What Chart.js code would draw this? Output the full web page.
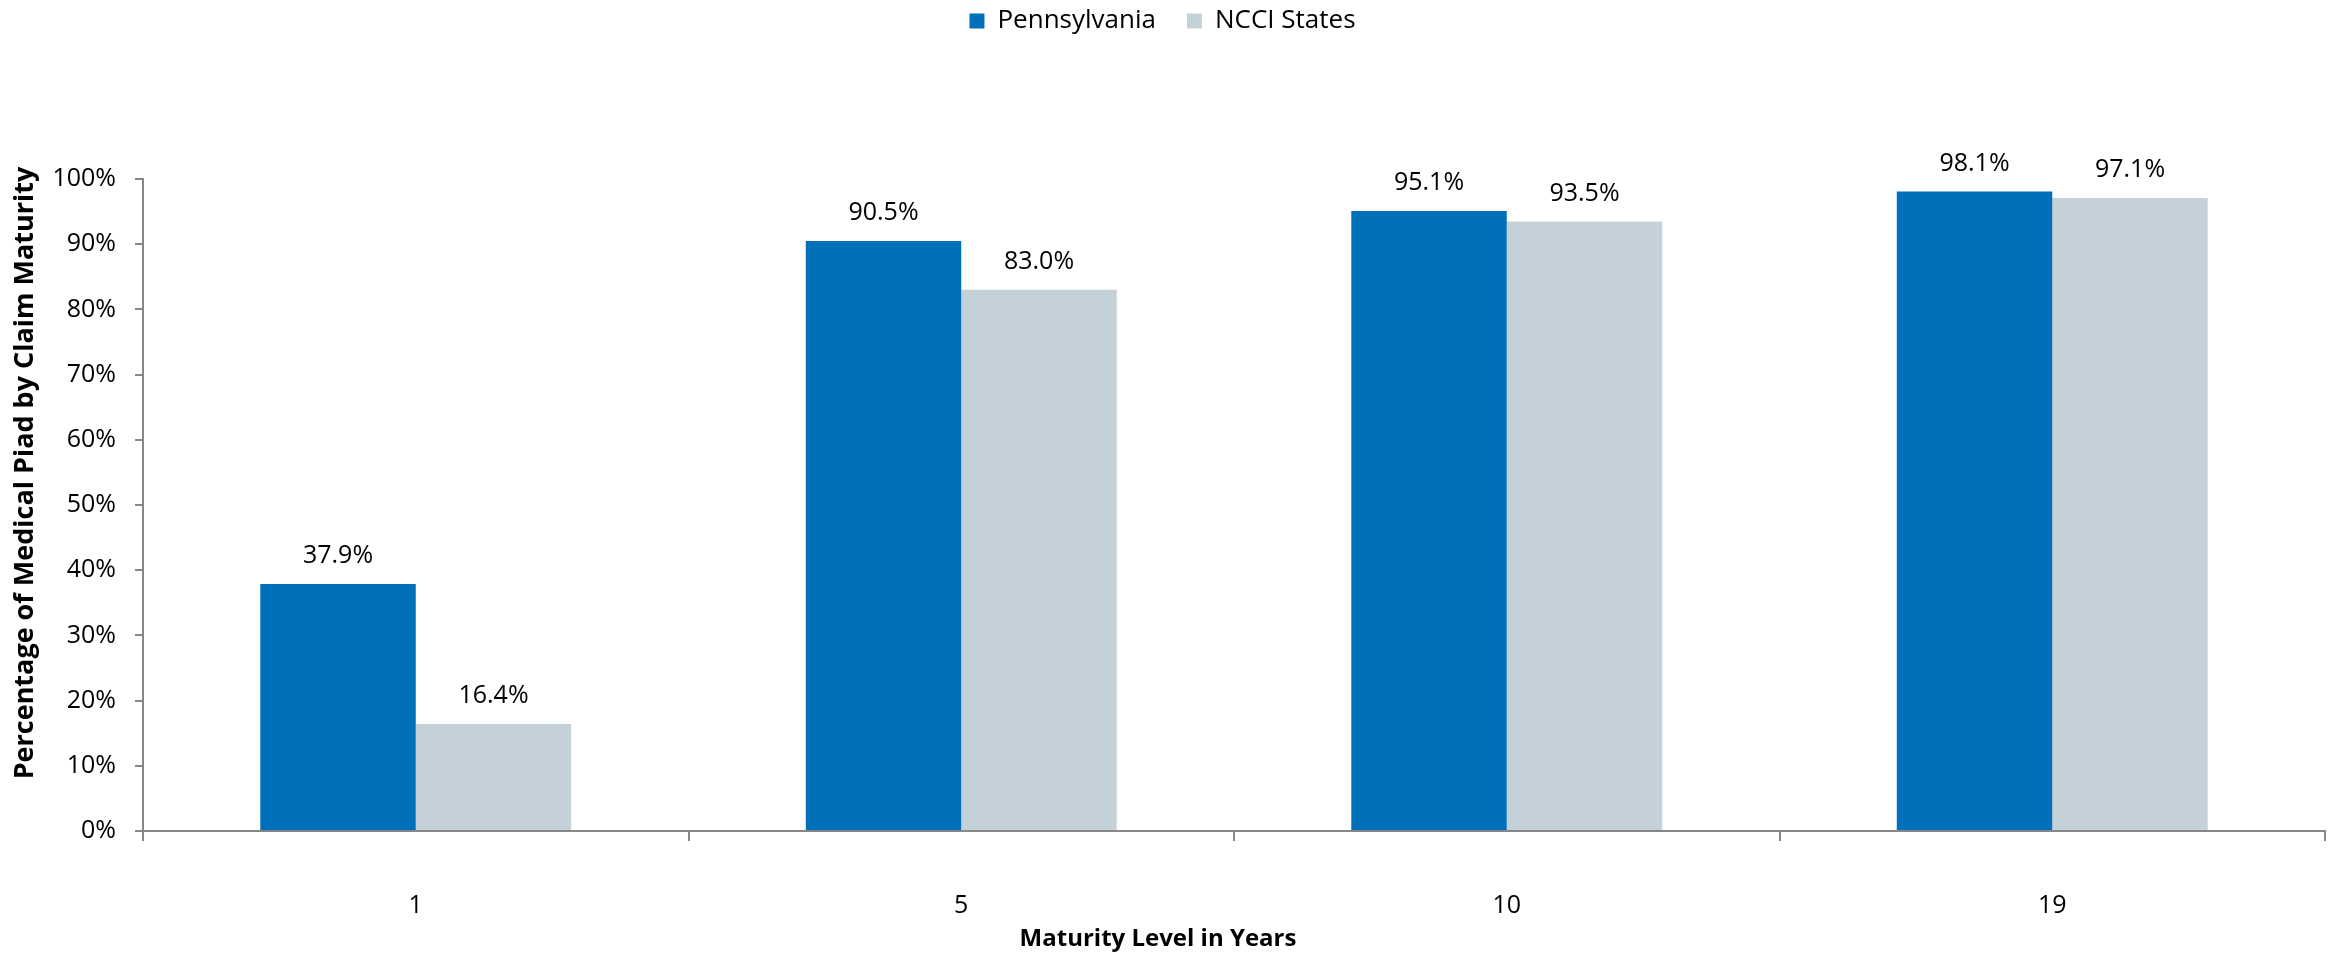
<!DOCTYPE html>
<html>
<head>
<meta charset="utf-8">
<title>Medical Paid by Claim Maturity</title>
<script src="https://cdn.jsdelivr.net/npm/chart.js@4.4.1/dist/chart.umd.min.js"></script>
<style>
  html, body { margin: 0; padding: 0; background: #fff; }
  canvas { display: block; }
</style>
</head>
<body>
<canvas id="maturityChart" width="2336" height="953"></canvas>
<script>
// maturity levels (years) and share of medical paid, in percent
const categories = ['1', '5', '10', '19'];
const pennsylvania = [37.9, 90.5, 95.1, 98.1];
const ncciStates = [16.4, 83.0, 93.5, 97.1];

const xTitle = 'Maturity Level in Years';
const yTitle = 'Percentage of Medical Piad by Claim Maturity';

const FONT = "'Open Sans', sans-serif";
const AXIS_GREY = '#878787';

// legend sits in a tall top band; pull its row up to the canvas top
const legendBand = {
    id: 'legendBand',
    beforeInit(chart) {
        const fit = chart.legend.fit;
        chart.legend.fit = function () {
            fit.call(this);
            this.height = 179;
        };
    },
    afterLayout(chart) {
        chart.legend.top -= 23;
        chart.legend.bottom -= 23;
    }
};

// value above each bar
const barValues = {
    id: 'barValues',
    afterDatasetsDraw(chart) {
        const ctx = chart.ctx;
        ctx.save();
        ctx.font = `25px ${FONT}`;
        ctx.fillStyle = '#000';
        ctx.textAlign = 'center';
        ctx.textBaseline = 'middle';
        chart.data.datasets.forEach((ds, i) => {
            chart.getDatasetMeta(i).data.forEach((bar, j) => {
                ctx.fillText(ds.data[j].toFixed(1) + '%', bar.x, bar.y - 28);
            });
        });
        ctx.restore();
    }
};

// axis titles, placed like the spreadsheet original
const axisTitles = {
    id: 'axisTitles',
    afterDraw(chart) {
        const ctx = chart.ctx;
        ctx.save();
        ctx.fillStyle = '#000';
        ctx.textAlign = 'center';
        ctx.textBaseline = 'middle';
        ctx.font = `bold 24px ${FONT}`;
        ctx.fillText(xTitle, 1158, 939);
        ctx.font = `bold 27px ${FONT}`;
        ctx.translate(25, 473);
        ctx.rotate(-Math.PI / 2);
        ctx.fillText(yTitle, 0, 0);
        ctx.restore();
    }
};

new Chart(document.getElementById('maturityChart'), {
    type: 'bar',
    data: {
        labels: categories,
        datasets: [
            {
                label: 'Pennsylvania',
                data: pennsylvania,
                backgroundColor: '#0070BA',
                categoryPercentage: 0.57,
                barPercentage: 1.0
            },
            {
                label: 'NCCI States',
                data: ncciStates,
                backgroundColor: '#C5D1D9',
                categoryPercentage: 0.57,
                barPercentage: 1.0
            }
        ]
    },
    options: {
        responsive: false,
        animation: false,
        layout: { padding: { left: 0, right: 11, top: 0, bottom: 0 } },
        plugins: {
            legend: {
                position: 'top',
                labels: {
                    boxWidth: 15,
                    boxHeight: 15,
                    padding: 31,
                    color: '#000',
                    font: { family: FONT, size: 26 }
                }
            },
            tooltip: { enabled: false }
        },
        scales: {
            x: {
                afterFit(scale) { scale.height = 122; },
                grid: {
                    drawOnChartArea: false,
                    drawTicks: true,
                    tickLength: 10,
                    color: AXIS_GREY,
                    lineWidth: 2
                },
                border: { display: true, color: AXIS_GREY, width: 2 },
                ticks: {
                    padding: 50,
                    color: '#000',
                    font: { family: FONT, size: 25 }
                }
            },
            y: {
                min: 0,
                max: 100,
                afterFit(scale) { scale.width = 143; },
                grid: {
                    drawOnChartArea: false,
                    drawTicks: true,
                    tickLength: 8,
                    color: AXIS_GREY,
                    lineWidth: 2
                },
                border: { display: true, color: AXIS_GREY, width: 2 },
                ticks: {
                    stepSize: 10,
                    padding: 19,
                    color: '#000',
                    font: { family: FONT, size: 25 },
                    callback: (v) => v + '%'
                }
            }
        }
    },
    plugins: [legendBand, barValues, axisTitles]
});
</script>
</body>
</html>
